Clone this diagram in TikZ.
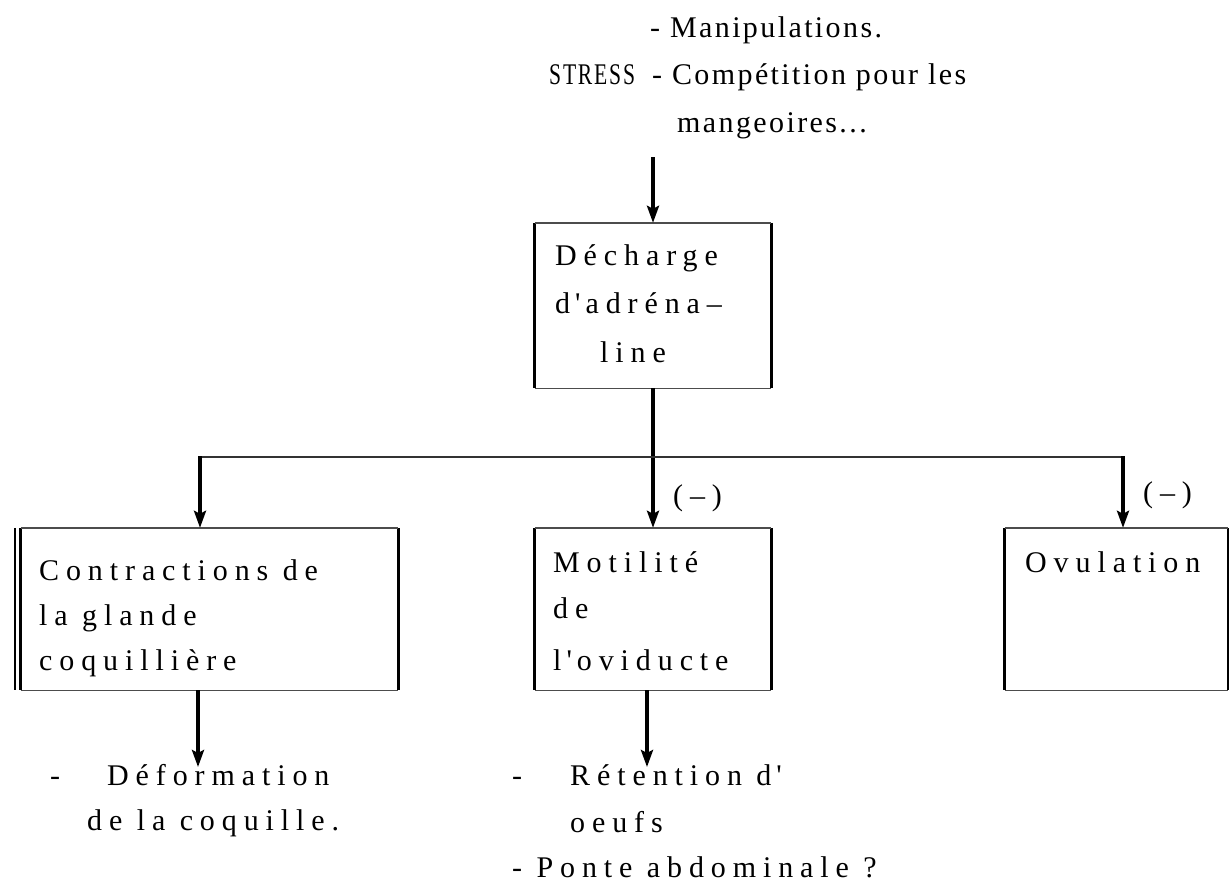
\documentclass[tikz,border=0pt]{standalone}
\usepackage{fontspec}
\usetikzlibrary{arrows.meta}
\newfontfamily\bodyf[LetterSpace=23]{Liberation Serif}
\newfontfamily\topf[LetterSpace=8]{Liberation Serif}
\newfontfamily\topnarrow[LetterSpace=6,FakeStretch=0.72]{Liberation Serif}
\begin{document}
\begin{tikzpicture}[x=1pt,y=-1pt,
  txt/.style={inner sep=0pt,anchor=base west,font=\bodyf\fontsize{30}{36}\selectfont},
  toptxt/.style={inner sep=0pt,anchor=base west,font=\topf\fontsize{30}{36}\selectfont},
  boxarea/.style={draw=none,inner sep=0pt,minimum width=#1},
  side/.style={line width=3pt},
  edge/.style={line width=1.4pt,black!70},
  arr/.style={line width=3.4pt,-{Stealth[length=17pt,width=12pt,inset=3pt]}},
  link/.style={line width=1.6pt,black!80}]
\useasboundingbox (0,0) rectangle (1229,884);

% boxes (areas)
\node[boxarea=236,minimum height=165] (dech) at (653,305.5) {};
\node[boxarea=377,minimum height=162] (contr) at (209.5,609) {};
\node[boxarea=236,minimum height=162] (mot) at (653,609) {};
\node[boxarea=223,minimum height=162] (ovu) at (1116.5,609) {};

% box sides
\foreach \b in {dech,contr,mot,ovu}{
  \draw[side] (\b.north west) -- (\b.south west);
  \draw[side] (\b.north east) -- (\b.south east);
  \draw[edge] (\b.north west) -- (\b.north east);
  \draw[edge] (\b.south west) -- (\b.south east);
}
\draw[line width=2.4pt] ([xshift=-6pt]contr.north west) -- ([xshift=-6pt]contr.south west);

% top text
\node[toptxt] (t1) at (650,37) {- Manipulations.};
\node[toptxt,font=\topnarrow\fontsize{30}{36}\selectfont] (t2a) at (549,84) {STRESS};
\node[toptxt] (t2b) at (652,84) {- Compétition pour les};
\node[toptxt] (t3) at (677,132) {mangeoires...};

% box texts
\node[txt] (d1) at (555,265) {Décharge};
\node[txt] (d2) at (555,313) {d\,\textquotesingle\,adréna–};
\node[txt] (d3) at (600,362) {line};

\node[txt] (c1) at (39,580) {Contractions de};
\node[txt] (c2) at (39,625) {la glande};
\node[txt] (c3) at (39,670) {coquillière};

\node[txt] (m1) at (553,572) {Motilité};
\node[txt] (m2) at (553,618) {de};
\node[txt] (m3) at (553,670) {l\,\textquotesingle\,oviducte};

\node[txt] (o1) at (1025,572) {Ovulation};

\node[txt] (lab1) at (673,505) {(–)};
\node[txt] (lab2) at (1143,502) {(–)};

% result texts
\node[txt] (r1a) at (50,785) {-};
\node[txt] (r1b) at (107,785) {Déformation};
\node[txt] (r1c) at (87,830) {de la coquille.};
\node[txt] (r2a) at (512,785) {-};
\node[txt] (r2b) at (570,785) {Rétention d\,\textquotesingle};
\node[txt] (r2c) at (570,832) {oeufs};
\node[txt] (r3) at (512,877) {- Ponte abdominale ?};

% connectors
\coordinate (src) at (653,157);
\coordinate (jl) at (200,457);
\coordinate (jr) at (1123,457);
\coordinate (e1) at (198,767);
\coordinate (e2) at (647,767);

\draw[arr] (src) -- (dech.north);
\draw[arr] (dech.south) -- (mot.north);
\draw[link] (jl) -- (jr);
\draw[arr] ([yshift=0.8pt]jl) -- (jl |- contr.north);
\draw[arr] ([yshift=0.8pt]jr) -- (jr |- ovu.north);
\draw[arr] (e1 |- contr.south) -- (e1);
\draw[arr] (e2 |- mot.south) -- (e2);
\end{tikzpicture}
\end{document}
